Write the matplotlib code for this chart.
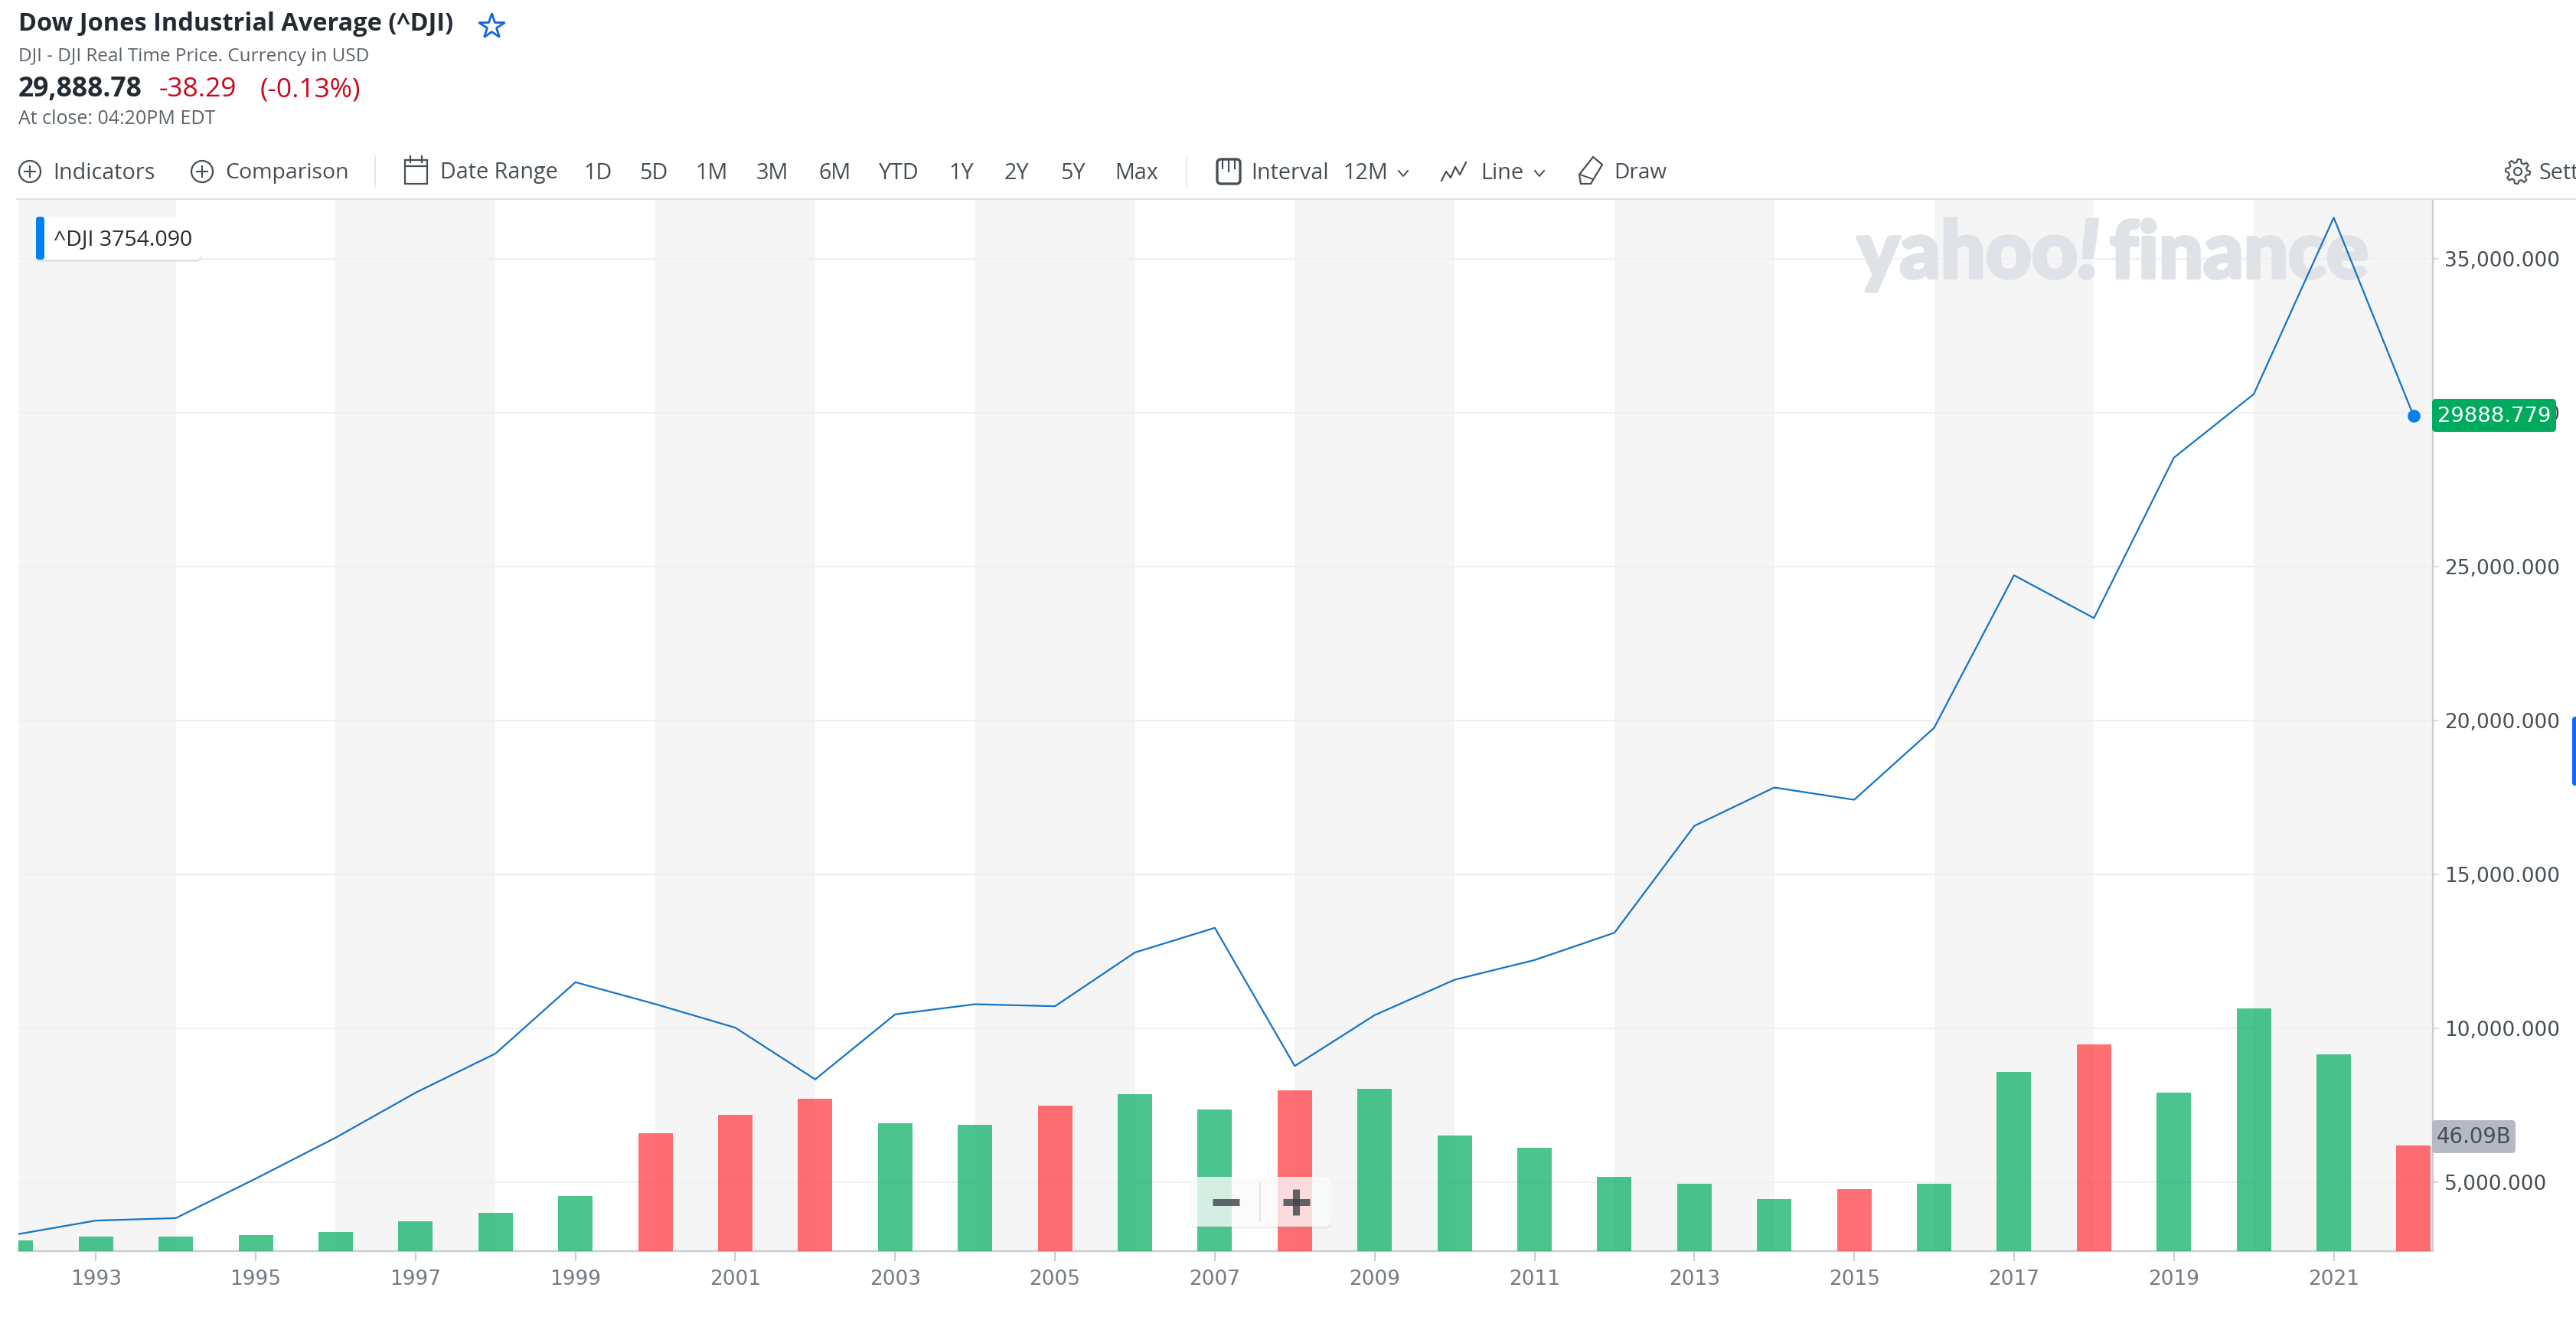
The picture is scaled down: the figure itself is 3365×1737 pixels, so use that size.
import numpy as np
from matplotlib import pyplot as plt
from matplotlib.patches import Circle, FancyBboxPatch, Polygon, Rectangle
from matplotlib.ticker import FuncFormatter
import matplotlib.patheffects as pe

plt.rcParams['font.family'] = ['Open Sans', 'DejaVu Sans']

# yearly closes and volume (billions)
years = list(range(1992, 2023))
closes = [3301, 3754, 3834, 5117, 6448, 7908, 9181, 11497, 10787, 10021,
          8341, 10453, 10783, 10717, 12463, 13264, 8776, 10428, 11577, 12217,
          13104, 16576, 17823, 17425, 19762, 24719, 23327, 28538, 30606, 36338, 29888.779]
volumes = [4.7, 6.3, 6.3, 7.0, 8.5, 13.0, 16.7, 24.2, 51.4, 59.6,
           66.5, 55.9, 55.1, 63.5, 68.6, 62.0, 70.3, 71.1, 50.5, 45.2,
           32.5, 29.5, 22.7, 27.2, 29.5, 78.4, 90.5, 69.4, 106.2, 86.0, 46.09]
down_years = [2000, 2001, 2002, 2005, 2008, 2015, 2018, 2022]
band_starts = [1992, 1996, 2000, 2004, 2008, 2012, 2016, 2020, 2022]
y_ticks = [5000, 10000, 15000, 20000, 25000, 30000, 35000]
x_ticks = list(range(1993, 2022, 2))

W, H = 3366, 1737
LEFT, RIGHT, TOP, BOTTOM = 24, 3178, 260, 1634
GREY_TXT = '#464e56'
AXIS_COL = '#c9cdd2'

fig = plt.figure(figsize=(W / 100, H / 100), dpi=100, facecolor='white')

# price axis
ax = fig.add_axes([LEFT / W, (H - BOTTOM) / H, (RIGHT - LEFT) / W, (BOTTOM - TOP) / H])
ax.set_ylim(2761, 36940)
for s in band_starts:
    ax.axvspan(s, s + 2, color='#f5f5f5', lw=0, zorder=0)
ax.set_xlim(1992.03, 2022.24)
ax.set_yticks(y_ticks)
ax.grid(axis='y', color='#eff0f1', lw=1.6, zorder=1)
ax.set_axisbelow(True)
ax.plot(years, closes, color='#1474c8', lw=1.6, zorder=3)
ax.plot(years[-1:], closes[-1:], 'o', color='#0081f2', ms=12, mew=0, zorder=4, clip_on=False)

# volume axis, same x
ax2 = ax.twinx()
ax2.set_ylim(0, 460)
bar_cols = ['#ff333a' if y in down_years else '#00ab5e' for y in years]
ax2.bar(years, volumes, width=0.43, color=bar_cols, alpha=0.7, lw=0, zorder=2)
ax2.set_yticks([])
for sp in ax2.spines.values():
    sp.set_visible(False)

ax.yaxis.tick_right()
ax.set_xticks(x_ticks)
ax.yaxis.set_major_formatter(FuncFormatter(lambda v, p: f'{v:,.3f}'))
ax.tick_params(axis='x', length=9.4, width=1.5, color=AXIS_COL, pad=8, labelsize=19, labelcolor='#747c85')
ax.tick_params(axis='y', length=5.8, width=1.5, color='#dcdfe2', pad=5, labelsize=19, labelcolor=GREY_TXT)
for tl in ax.get_xticklabels() + ax.get_yticklabels():
    tl.set_family('DejaVu Sans')
ax.spines['top'].set_visible(False)
ax.spines['left'].set_visible(False)
for side in ['right', 'bottom']:
    ax.spines[side].set_color(AXIS_COL)
    ax.spines[side].set_linewidth(1.6)

# page chrome in pixel coordinates
ov = fig.add_axes([0, 0, 1, 1], zorder=5)
ov.set_xlim(0, W)
ov.set_ylim(H, 0)
ov.axis('off')


def txt(x, y, s, size=20, color=GREY_TXT, weight='normal', ha='left', family=None, **kw):
    # +2: va center sits a bit high for these fonts
    return ov.text(x, y + 2, s, fontsize=size, color=color, fontweight=weight, ha=ha, va='center',
                   family=family or ['Open Sans', 'DejaVu Sans'], **kw)


def plus_circle(x, y):
    ov.add_patch(Circle((x, y), 14, fc='none', ec=GREY_TXT, lw=1.6))
    ov.plot([x - 7, x + 7], [y, y], color=GREY_TXT, lw=1.5)
    ov.plot([x, x], [y - 7, y + 7], color=GREY_TXT, lw=1.5)


def chevron(x, y):
    ov.plot([x - 6, x, x + 6], [y - 3, y + 4, y - 3], color=GREY_TXT, lw=1.4)


# watermark sits under the line
thick = [pe.withStroke(linewidth=3, foreground='#dfe2e6')]
wm = dict(color='#dfe2e6', fontweight='black', family='Lato', va='baseline',
          transform=ov.transData, zorder=1.5, clip_on=False, path_effects=thick)
ax.text(2426, 363, 'yahoo', fontsize=75, **wm)
ax.text(2714, 363, '!', fontsize=76, style='italic', **wm)
ax.text(2756, 363, 'finance', fontsize=74, **wm)

# header
txt(24, 30, 'Dow Jones Industrial Average (^DJI)', size=23.4, color='#232a31', weight='bold')
ov.plot([642], [34], marker='*', ms=25, mfc='none', mec='#1464e0', mew=2)
txt(24, 72, 'DJI - DJI Real Time Price. Currency in USD', size=17.5, color='#5b636a')
txt(24, 115, '29,888.78', size=25.5, color='#232a31', weight='bold')
txt(208, 115, '-38.29', size=25.5, color='#c80a1e')
txt(340, 115, '(-0.13%)', size=25.5, color='#c80a1e')
txt(24, 153, 'At close: 04:20PM EDT', size=18, color='#5b636a')

# toolbar
TY = 224
plus_circle(39, TY)
txt(69, TY, 'Indicators', size=20.7, weight='medium')
plus_circle(264, TY)
txt(294, TY, 'Comparison', size=20.5, weight='medium')
ov.plot([490, 490], [TY - 20, TY + 20], color='#e0e4e9', lw=1.2)
ov.add_patch(Rectangle((529, TY - 15), 29, 31, fc='none', ec=GREY_TXT, lw=1.6))
ov.plot([529, 558], [TY - 7, TY - 7], color=GREY_TXT, lw=1.6)
ov.plot([536, 536], [TY - 20, TY - 12], color=GREY_TXT, lw=1.6)
ov.plot([551, 551], [TY - 20, TY - 12], color=GREY_TXT, lw=1.6)
txt(575, TY, 'Date Range', size=20.7, weight='medium')
range_labels = ['1D', '5D', '1M', '3M', '6M', 'YTD', '1Y', '2Y', '5Y', 'Max']
range_x = [762, 835, 908, 988, 1069, 1148, 1239, 1312, 1385, 1456]
for lx, lab in zip(range_x, range_labels):
    txt(lx, TY, lab, size=20.7, weight='medium')
ov.plot([1550, 1550], [TY - 20, TY + 20], color='#e0e4e9', lw=1.2)
ov.add_patch(FancyBboxPatch((1590, TY - 16), 30, 32, boxstyle='round,pad=0,rounding_size=5',
                            fc='none', ec=GREY_TXT, lw=2.4))
for bx, blen in zip([1597, 1605, 1613], [12, 16, 12]):
    ov.plot([bx, bx], [TY - 16, TY - 16 + blen], color=GREY_TXT, lw=1.5)
txt(1634, TY, 'Interval', size=20.7, weight='medium')
txt(1754, TY, '12M', size=20.7, weight='medium')
chevron(1833, TY + 2)
ov.plot([1883, 1889, 1895, 1901, 1907, 1915], [TY + 12, TY, TY + 8, TY - 6, TY + 4, TY - 12], color=GREY_TXT, lw=1.6)
txt(1934, TY, 'Line', size=20.7, weight='medium')
chevron(2011, TY + 2)
ov.add_patch(Polygon([[2063, TY + 4], [2081, TY - 19], [2093, TY - 9], [2078, TY + 16], [2065, TY + 16]],
                     fc='none', ec=GREY_TXT, lw=1.6))
ov.plot([2064, 2081], [TY + 4, TY + 10], color=GREY_TXT, lw=1.4)
txt(2108, TY, 'Draw', size=20.2, weight='medium')
gear_ang = np.linspace(0, 2 * np.pi, 48, endpoint=False)
gear_r = np.where(np.arange(48) % 6 < 3, 16, 12)
ov.add_patch(Polygon(np.c_[3289 + gear_r * np.cos(gear_ang), TY + gear_r * np.sin(gear_ang)],
                     fc='none', ec=GREY_TXT, lw=1.5))
ov.add_patch(Circle((3289, TY), 5, fc='none', ec=GREY_TXT, lw=1.5))
txt(3317, TY, 'Sett', size=20.7, weight='medium', clip_on=True)

ov.plot([22, W], [TOP, TOP], color='#e0e4e9', lw=1.6)

# hover box at top left
shadow = [pe.withSimplePatchShadow(offset=(0, -2), shadow_rgbFace='#9aa0a6', alpha=0.25)]
ov.add_patch(FancyBboxPatch((47, 283), 216, 56, boxstyle='round,pad=0,rounding_size=7', fc='white', ec='none',
                            path_effects=shadow))
ov.add_patch(FancyBboxPatch((47, 283), 11, 56, boxstyle='round,pad=0,rounding_size=4', fc='#0081f2', ec='none'))
txt(70, 311, '^DJI 3754.090', size=20.5, color='#232a31')

# price and volume tags
ov.add_patch(FancyBboxPatch((3177, 521), 162, 43, boxstyle='round,pad=0,rounding_size=5', fc='#00ab5e', ec='none'))
txt(3258, 542, '29888.779', size=19.7, color='white', ha='center', family='DejaVu Sans')
ov.add_patch(FancyBboxPatch((3177, 1463), 109, 43, boxstyle='round,pad=0,rounding_size=5', fc='#b4b9c2', ec='none'))
txt(3232, 1483, '46.09B', size=19.8, ha='center', family='DejaVu Sans')
ov.add_patch(FancyBboxPatch((3360, 936), 12, 90, boxstyle='round,pad=0,rounding_size=4', fc='#0f69ff', ec='none', clip_on=True))

# zoom control
ov.add_patch(FancyBboxPatch((1556, 1537), 183, 65, boxstyle='round,pad=0,rounding_size=8', fc='white', ec='none', alpha=0.76,
                            path_effects=[pe.withSimplePatchShadow(offset=(0, -2), shadow_rgbFace='#80868b', alpha=0.12)]))
ov.plot([1646, 1646], [1545, 1595], color='#d5d8db', lw=1.2, alpha=0.8)
ov.plot([1584, 1619], [1570, 1570], color='#3c4248', lw=6.5, alpha=0.8, solid_capstyle='butt')
ov.plot([1676, 1711], [1570, 1570], color='#3c4248', lw=6.5, alpha=0.8, solid_capstyle='butt')
ov.plot([1693.5, 1693.5], [1553, 1587], color='#3c4248', lw=6.5, alpha=0.8, solid_capstyle='butt')

fig.savefig('out.png', dpi=100)
plt.close()
